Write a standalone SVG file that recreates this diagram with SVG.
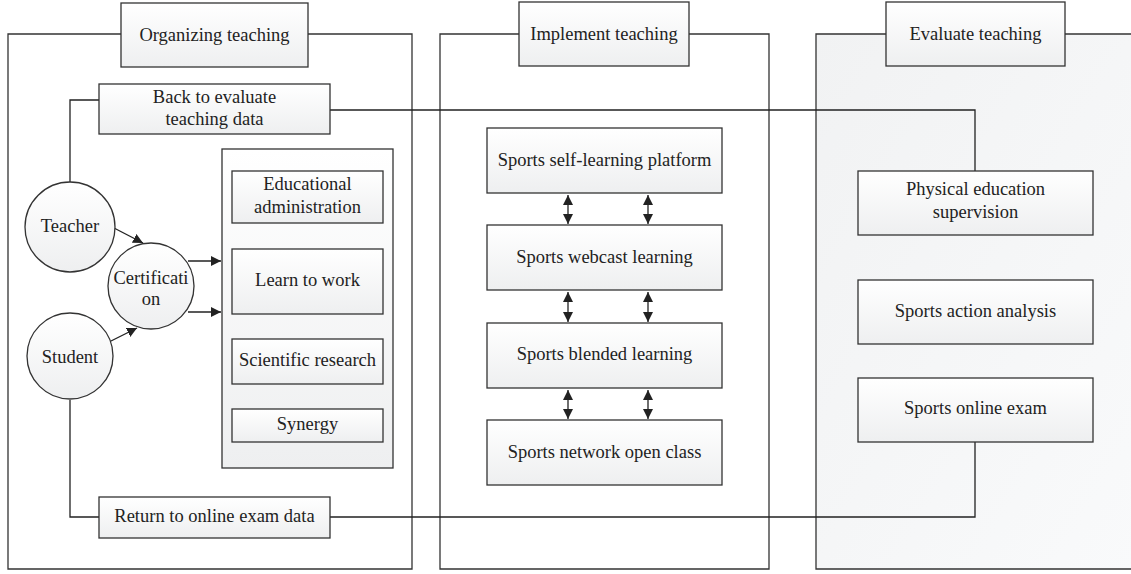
<svg xmlns="http://www.w3.org/2000/svg" width="1131" height="574" viewBox="0 0 1131 574">
<defs>
<linearGradient id="g" x1="0" y1="0" x2="0" y2="1"><stop offset="0" stop-color="#ffffff"/><stop offset="1" stop-color="#eeeff0"/></linearGradient>
<linearGradient id="gp" x1="0" y1="0" x2="1" y2="1"><stop offset="0" stop-color="#f1f2f3"/><stop offset="1" stop-color="#f9fafb"/></linearGradient>
<marker id="a" viewBox="0 0 10 10" refX="10" refY="5" markerWidth="10" markerHeight="10" markerUnits="userSpaceOnUse" orient="auto-start-reverse"><path d="M0,0 L10,5 L0,10 z" fill="#222"/></marker>
<style>
.b{fill:url(#g);stroke:#333;stroke-width:1.3}
.p{fill:none;stroke:#333;stroke-width:1.3}
.l{fill:none;stroke:#222;stroke-width:1.3}
text{font-family:"Liberation Serif",serif;font-size:18.5px;fill:#222;text-anchor:middle}
</style>
</defs>
<rect width="1131" height="574" fill="#fff"/>
<g id="panel-organizing">
<path class="p" d="M121,34 H8 V569 H412 V34 H308"/>
<rect class="b" x="121" y="3" width="187" height="64"/>
<text x="214.5" y="41">Organizing teaching</text>
</g>
<g id="panel-implement">
<path class="p" d="M519,34 H440 V569 H769 V34 H689"/>
<rect class="b" x="519" y="2" width="170" height="64"/>
<text x="604" y="40">Implement teaching</text>
</g>
<g id="panel-evaluate">
<rect x="816" y="34" width="320" height="535" fill="url(#gp)"/>
<path class="p" d="M886,34 H816 V569 H1135"/>
<path class="p" d="M1065,34 H1135"/>
<rect class="b" x="886" y="2" width="179" height="64"/>
<text x="975.5" y="40">Evaluate teaching</text>
</g>
<g id="connectors">
<path class="l" d="M99,100 H70 V182"/>
<path class="l" d="M330,110 H975 V171"/>
<path class="l" d="M70,400 V517 H99"/>
<path class="l" d="M330,517 H975 V442"/>
<line class="l" x1="114" y1="228" x2="143" y2="243" marker-end="url(#a)"/>
<line class="l" x1="109" y1="342" x2="137" y2="328" marker-end="url(#a)"/>
<line class="l" x1="188" y1="261" x2="221" y2="261" marker-end="url(#a)"/>
<line class="l" x1="188" y1="312" x2="221" y2="312" marker-end="url(#a)"/>
<line class="l" x1="568" y1="195" x2="568" y2="224" marker-start="url(#a)" marker-end="url(#a)"/>
<line class="l" x1="648" y1="195" x2="648" y2="224" marker-start="url(#a)" marker-end="url(#a)"/>
<line class="l" x1="568" y1="292" x2="568" y2="322" marker-start="url(#a)" marker-end="url(#a)"/>
<line class="l" x1="648" y1="292" x2="648" y2="322" marker-start="url(#a)" marker-end="url(#a)"/>
<line class="l" x1="568" y1="390" x2="568" y2="419" marker-start="url(#a)" marker-end="url(#a)"/>
<line class="l" x1="648" y1="390" x2="648" y2="419" marker-start="url(#a)" marker-end="url(#a)"/>
</g>
<g id="back-to-evaluate">
<rect class="b" x="99" y="84" width="231" height="50"/>
<text x="214.5" y="103">Back to evaluate</text>
<text x="214.5" y="125">teaching data</text>
</g>
<g id="teacher">
<circle class="b" cx="70" cy="227" r="45"/>
<text x="70" y="232">Teacher</text>
</g>
<g id="student">
<circle class="b" cx="70" cy="356" r="43"/>
<text x="70" y="363">Student</text>
</g>
<g id="certification">
<circle class="b" cx="151" cy="286" r="43"/>
<text x="151" y="284">Certificati</text>
<text x="151" y="305">on</text>
</g>
<g id="roles-container">
<rect class="b" x="222" y="149" width="171" height="319"/>
</g>
<g id="educational-administration">
<rect class="b" x="232" y="171" width="151" height="52"/>
<text x="307.5" y="190">Educational</text>
<text x="307.5" y="213">administration</text>
</g>
<g id="learn-to-work">
<rect class="b" x="232" y="249" width="151" height="65"/>
<text x="307.5" y="286">Learn to work</text>
</g>
<g id="scientific-research">
<rect class="b" x="232" y="339" width="151" height="45"/>
<text x="307.5" y="366">Scientific research</text>
</g>
<g id="synergy">
<rect class="b" x="232" y="409" width="151" height="33"/>
<text x="307.5" y="430">Synergy</text>
</g>
<g id="return-online-exam">
<rect class="b" x="99" y="497" width="231" height="41"/>
<text x="214.5" y="522">Return to online exam data</text>
</g>
<g id="self-learning">
<rect class="b" x="487" y="128" width="235" height="65"/>
<text x="604.5" y="166">Sports self-learning platform</text>
</g>
<g id="webcast">
<rect class="b" x="487" y="225" width="235" height="65"/>
<text x="604.5" y="263">Sports webcast learning</text>
</g>
<g id="blended">
<rect class="b" x="487" y="323" width="235" height="65"/>
<text x="604.5" y="360">Sports blended learning</text>
</g>
<g id="open-class">
<rect class="b" x="487" y="420" width="235" height="65"/>
<text x="604.5" y="458">Sports network open class</text>
</g>
<g id="pe-supervision">
<rect class="b" x="858" y="171" width="235" height="64"/>
<text x="975.5" y="195">Physical education</text>
<text x="975.5" y="218">supervision</text>
</g>
<g id="action-analysis">
<rect class="b" x="858" y="280" width="235" height="64"/>
<text x="975.5" y="317">Sports action analysis</text>
</g>
<g id="online-exam">
<rect class="b" x="858" y="378" width="235" height="64"/>
<text x="975.5" y="414">Sports online exam</text>
</g>
</svg>
